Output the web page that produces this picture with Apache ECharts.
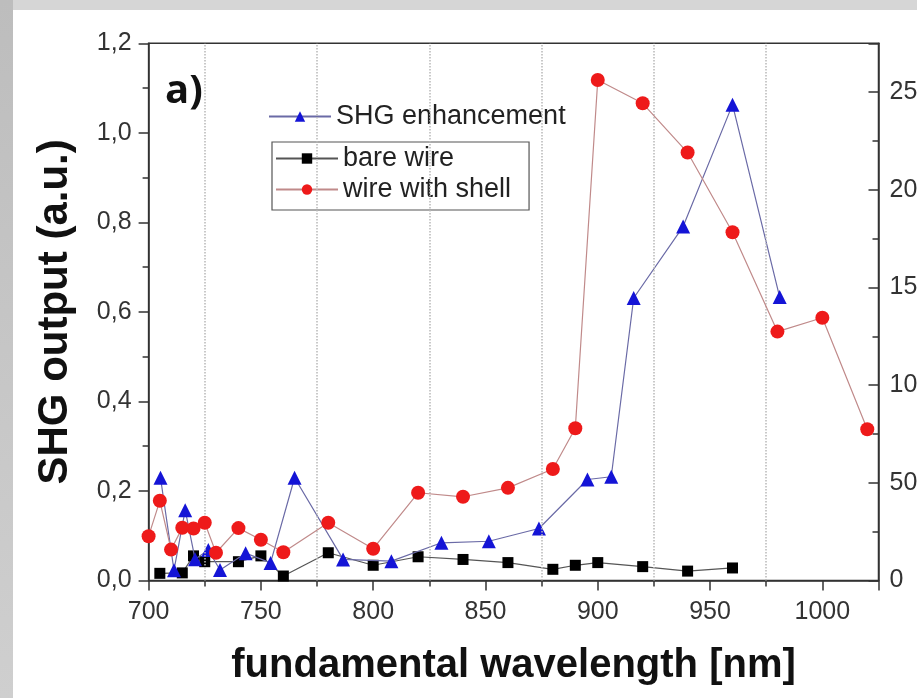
<!DOCTYPE html>
<html>
<head>
<meta charset="utf-8">
<script src="https://cdn.jsdelivr.net/npm/echarts@6/dist/echarts.min.js"></script>
<style>
html,body{margin:0;padding:0;background:#fff;}
#chart{width:917px;height:698px;}
</style>
</head>
<body>
<div id="chart"></div>
<script>
// ---- data ----
var shellWavelength = [700,705,710,715,720,725,730,740,750,760,780,800,820,840,860,880,890,900,920,940,960,980,1000,1020];
var shellOutput     = [0.099,0.178,0.069,0.118,0.116,0.129,0.062,0.117,0.091,0.063,0.129,0.071,0.196,0.187,0.207,0.249,0.340,1.118,1.066,0.956,0.778,0.556,0.587,0.338];

var bareWavelength = [705,715,720,725,740,750,760,780,800,820,840,860,880,890,900,920,940,960];
var bareOutput     = [0.016,0.017,0.055,0.042,0.042,0.055,0.010,0.062,0.034,0.053,0.047,0.040,0.025,0.034,0.040,0.031,0.021,0.028];

var enhWavelength = [705.3,711.3,716.3,720.7,726.6,731.8,743.2,754.3,765,786.6,808.1,830.4,851.5,873.8,895.4,906,916,938,960,981];
var enhancement   = [52.6,5.3,36.0,10.9,15.6,5.4,14.0,9.0,52.6,10.8,9.9,19.3,20.1,26.6,51.7,53.1,144.6,181.2,243.6,145.1];

var xTickLabels     = ['700','750','800','850','900','950','1000'];
var leftTickLabels  = ['0,0','0,2','0,4','0,6','0,8','1,0','1,2'];
var rightTickLabels = ['0','50','100','150','200','250'];
var gridLineWavelengths = [725,775,825,875,925,975];

var seriesNames = ['SHG enhancement','bare wire','wire with shell'];
var panelLabel = 'a)';
var xTitle = 'fundamental wavelength [nm]';
var yTitle = 'SHG output (a.u.)';

function pairs(xs, ys){ return xs.map(function(x,i){ return [x, ys[i]]; }); }

var chart = echarts.init(document.getElementById('chart'));
var axisColor = '#333';
var labelFont = {fontFamily:'Liberation Sans, Arial, sans-serif', fontSize:25, color:'#333'};
var legendFont = {fontFamily:'Liberation Sans, Arial, sans-serif', fontSize:27, color:'#222'};

chart.setOption({
  backgroundColor:'#ffffff',
  animation:false,
  grid:{left:148.6, right:38.5, top:43.3, bottom:117.5, show:true, borderColor:axisColor, borderWidth:1.5,
        backgroundColor:'transparent', containLabel:false, outerBoundsMode:'none'},
  graphic:[
    {type:'rect', z:-10, shape:{x:0,y:0,width:917,height:10}, style:{fill:'#d6d6d6'}},
    {type:'rect', z:-10, shape:{x:0,y:0,width:13,height:698},
      style:{fill:{type:'linear',x:0,y:0,x2:1,y2:1,colorStops:[{offset:0,color:'#bdbdbd'},{offset:1,color:'#cfcfcf'}]}}},
    {type:'text', left:165, top:72, z:10,
      style:{text:panelLabel, font:'bold 40px "Open Sans", sans-serif', fill:'#111'}}
  ],
  legend:[
    {data:[seriesNames[0]], left:268, top:103, orient:'vertical', padding:0,
     itemWidth:62, itemHeight:13, textStyle:legendFont},
    {data:[seriesNames[1], seriesNames[2]], left:272, top:142, orient:'vertical',
     padding:[3,18,7,3], itemGap:4, borderColor:'#555', borderWidth:1.2,
     itemWidth:62, itemHeight:13, textStyle:legendFont}
  ],
  xAxis:{
    type:'value', min:700, max:1025, interval:50,
    name:xTitle, nameLocation:'middle', nameGap:65,
    nameTextStyle:{fontFamily:'Liberation Sans, Arial, sans-serif', fontWeight:'bold', fontSize:40, color:'#111'},
    axisLine:{lineStyle:{color:axisColor, width:1.5}},
    axisTick:{show:true, inside:false, length:10, lineStyle:{color:axisColor, width:1.5}},
    minorTick:{show:true, splitNumber:2, length:6, lineStyle:{color:axisColor, width:1.5}},
    splitLine:{show:false},
    axisLabel:Object.assign({margin:19, showMaxLabel:false, formatter:function(v){ var i = xTickLabels.indexOf(String(v)); return i>=0 ? xTickLabels[i] : ''; }}, labelFont)
  },
  yAxis:[
    {type:'value', min:0, max:1.2, interval:0.2, position:'left',
     name:yTitle, nameLocation:'middle', nameGap:72, nameRotate:90,
     nameTextStyle:{fontFamily:'Liberation Sans, Arial, sans-serif', fontWeight:'bold', fontSize:42, color:'#111'},
     axisLine:{show:true, lineStyle:{color:axisColor, width:1.5}},
     axisTick:{show:true, inside:false, length:10, lineStyle:{color:axisColor, width:1.5}},
     minorTick:{show:true, splitNumber:2, length:6, lineStyle:{color:axisColor, width:1.5}},
     splitLine:{show:false},
     axisLabel:Object.assign({margin:17, formatter:function(v){ return leftTickLabels[Math.round(v/0.2)]; }}, labelFont)
    },
    {type:'value', min:0, max:275, interval:50, position:'right',
     axisLine:{show:true, lineStyle:{color:axisColor, width:1.5}},
     axisTick:{show:true, inside:true, length:10, lineStyle:{color:axisColor, width:1.5}},
     minorTick:{show:true, splitNumber:2, length:6, lineStyle:{color:axisColor, width:1.5}},
     splitLine:{show:false},
     axisLabel:Object.assign({margin:11, formatter:function(v){ var i=Math.round(v/50); return rightTickLabels[i]; }}, labelFont)
    }
  ],
  series:[
    {name:seriesNames[0], type:'line', yAxisIndex:1, data:pairs(enhWavelength, enhancement),
     symbol:'triangle', symbolSize:14, itemStyle:{color:'#1414d6'},
     lineStyle:{color:'#6a6aa6', width:1.2}, z:4},
    {name:seriesNames[1], type:'line', yAxisIndex:0, data:pairs(bareWavelength, bareOutput),
     symbol:'rect', symbolSize:11, itemStyle:{color:'#000'},
     lineStyle:{color:'#555', width:1.2}, z:3,
     markLine:{silent:true, symbol:'none', label:{show:false},
       lineStyle:{color:'#b8b8b8', type:'dotted', width:1.5},
       data:gridLineWavelengths.map(function(w){ return {xAxis:w}; })}},
    {name:seriesNames[2], type:'line', yAxisIndex:0, data:pairs(shellWavelength, shellOutput),
     symbol:'circle', symbolSize:14, itemStyle:{color:'#ee1a1a'},
     lineStyle:{color:'#c08a8a', width:1.2}, z:5}
  ]
});
</script>
</body>
</html>
